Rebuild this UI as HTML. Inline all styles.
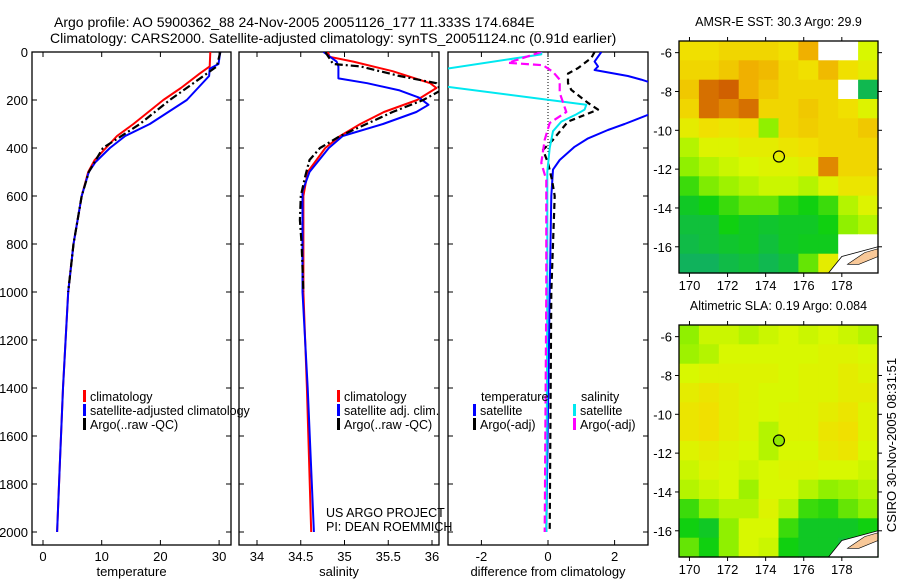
<!DOCTYPE html>
<html><head><meta charset="utf-8"><style>
html,body{margin:0;padding:0;background:#fff;width:900px;height:580px;overflow:hidden}
svg{display:block;font-family:"Liberation Sans",sans-serif}
</style></head><body>
<svg id="fig" width="900" height="580" viewBox="0 0 900 580"></svg>
<script>
// ---------- data ----------
const depthTicks=[0,200,400,600,800,1000,1200,1400,1600,1800,2000];
const tempTicks=[0,10,20,30];
const salTicks=[34,34.5,35,35.5,36];
const salTickLabels=["34","34.5","35","35.5","36"];
const diffTicks=[-2,0,2];
// temperature profiles [depth, value]
const tempClim=[[0,28.5],[60,28.4],[90,26.7],[150,23.5],[200,20.5],[300,15.4],[350,12.6],[450,8.8],[500,7.7],[600,6.6],[800,5.2],[1000,4.3],[1400,3.4],[1700,2.9],[2000,2.4]];
const tempSat=[[0,30.2],[50,29.9],[70,28.4],[100,28.3],[200,24.5],[300,18.2],[350,14.0],[400,11.4],[460,8.9],[500,7.8],[600,6.6],[800,5.2],[1000,4.3],[1400,3.4],[1700,2.9],[2000,2.4]];
const tempArgo=[[0,30.2],[60,29.6],[90,27.9],[200,21.6],[300,16.5],[400,10.2],[450,9.0],[500,7.8],[600,6.6],[800,5.2],[1000,4.3]];
// salinity profiles
const salClim=[[0,34.81],[20,34.83],[40,35.1],[80,35.55],[130,35.98],[150,36.05],[200,35.83],[250,35.45],[300,35.18],[350,34.95],[400,34.78],[500,34.58],[600,34.53],[800,34.53],[1000,34.53],[1400,34.57],[2000,34.62]];
const salSat=[[0,34.76],[40,34.91],[60,34.93],[110,34.93],[130,35.26],[160,35.63],[190,35.85],[220,35.96],[250,35.82],[300,35.44],[350,34.98],[400,34.82],[500,34.6],[580,34.52],[800,34.52],[1000,34.52],[1400,34.58],[2000,34.65]];
const salArgo=[[0,34.78],[50,34.87],[60,35.18],[100,35.63],[130,36.05],[160,36.1],[200,35.9],[250,35.55],[300,35.25],[350,34.95],[400,34.72],[450,34.6],[520,34.55],[600,34.5],[700,34.49],[800,34.51],[1000,34.53]];
// differences from climatology
const diffTempSat=[[0,1.6],[40,1.4],[60,1.5],[75,1.4],[100,2.4],[115,2.8],[150,3.6],[200,4.0],[250,3.2],[262,3.0],[300,2.3],[325,1.8],[360,1.2],[395,0.8],[450,0.35],[490,0.15],[600,0.1],[1000,0.05],[1500,0.0],[2000,-0.05]];
const diffTempArgo=[[0,1.4],[25,1.3],[67,0.9],[90,0.6],[130,0.6],[158,0.7],[212,1.2],[240,1.5],[290,0.6],[366,0.15],[408,-0.15],[462,0],[533,0.12],[600,0.2],[1000,0.1],[2000,0.05]];
const diffSalSat=[[0,-0.2],[10,-0.2],[75,-3.3],[140,-3.3],[220,1.15],[240,1.1],[260,0.85],[290,0.4],[330,0.15],[400,0.05],[500,-0.02],[1000,-0.02],[2000,-0.05]];
const diffSalArgo=[[0,-0.2],[45,-1.2],[55,-0.15],[83,0.15],[115,0.35],[170,0.35],[250,0.55],[296,0.05],[366,-0.1],[462,-0.2],[533,-0.05],[1000,-0.05],[2000,-0.1]];
// map grids (normalised colour index, -1 = no data)
const mapLonTicks=[170,172,174,176,178];
const mapLatTicks=[-6,-8,-10,-12,-14,-16];
const sstGrid=[
[0.7,0.7,0.72,0.72,0.72,0.7,0.8,-1,-1,0.6],
[0.72,0.72,0.75,0.8,0.78,0.72,0.7,0.78,0.7,0.65],
[0.75,0.88,0.9,0.8,0.75,0.72,0.72,0.72,-1,0.2],
[0.72,0.88,0.85,0.88,0.72,0.72,0.75,0.72,0.7,0.62],
[0.65,0.7,0.68,0.7,0.5,0.72,0.74,0.72,0.72,0.75],
[0.55,0.62,0.62,0.65,0.65,0.68,0.7,0.72,0.72,0.72],
[0.5,0.55,0.58,0.6,0.62,0.62,0.65,0.85,0.72,0.72],
[0.4,0.48,0.52,0.55,0.58,0.58,0.55,0.62,0.68,0.68],
[0.3,0.35,0.4,0.45,0.45,0.38,0.35,0.4,0.55,0.62],
[0.25,0.25,0.35,0.3,0.28,0.3,0.3,0.35,0.5,0.55],
[0.22,0.25,0.28,0.3,0.25,0.3,0.32,0.32,-1,-1],
[0.15,0.15,0.22,0.25,0.2,0.25,0.45,0.65,-1,-1]];
const slaGrid=[
[0.5,0.58,0.58,0.55,0.58,0.6,0.58,0.6,0.58,0.55],
[0.52,0.55,0.6,0.6,0.6,0.6,0.6,0.62,0.62,0.6],
[0.6,0.62,0.62,0.62,0.62,0.6,0.62,0.62,0.65,0.62],
[0.65,0.68,0.65,0.62,0.6,0.6,0.62,0.62,0.65,0.65],
[0.68,0.7,0.65,0.62,0.6,0.62,0.62,0.65,0.68,0.62],
[0.68,0.7,0.65,0.62,0.55,0.62,0.62,0.68,0.7,0.62],
[0.62,0.65,0.62,0.6,0.55,0.6,0.6,0.66,0.68,0.6],
[0.58,0.62,0.6,0.58,0.6,0.62,0.62,0.6,0.6,0.58],
[0.55,0.58,0.6,0.52,0.6,0.6,0.55,0.5,0.52,0.55],
[0.4,0.5,0.55,0.55,0.62,0.55,0.4,0.38,0.45,0.5],
[0.35,0.3,0.5,0.6,0.6,0.4,0.3,0.3,0.3,0.35],
[0.45,0.35,0.5,0.6,0.58,0.35,0.3,0.3,0.25,0.3]];
const argoLon=174.7, argoLat=-11.35;

// ---------- helpers ----------
const NS="http://www.w3.org/2000/svg";
const svg=document.getElementById('fig');
function mk(tag,attrs,parent){const e=document.createElementNS(NS,tag);for(const k in attrs)e.setAttribute(k,attrs[k]);(parent||svg).appendChild(e);return e;}
function txt(s,x,y,size,anchor,parent){const t=mk('text',{x:x,y:y,'font-size':size,'text-anchor':anchor||'start',fill:'#000'},parent);t.textContent=s;return t;}

const yTop=52, yBot=545, pxPerM=0.24;
const yD=d=>yTop+d*pxPerM;
const panels=[
 {name:'temperature',x0:32,x1:231,fx:v=>43+5.87*v,ticks:tempTicks,labels:tempTicks.map(String),title:'temperature'},
 {name:'salinity',x0:239,x1:439,fx:v=>257+87.5*(v-34),ticks:salTicks,labels:salTickLabels,title:'salinity'},
 {name:'difference',x0:448,x1:648,fx:v=>548+33.3*v,ticks:diffTicks,labels:diffTicks.map(String),title:'difference from climatology'}
];

// titles
let t1=txt('Argo profile: AO 5900362_88 24-Nov-2005 20051126_177 11.333S 174.684E',54,27,14);

let t2=txt('Climatology: CARS2000. Satellite-adjusted climatology: synTS_20051124.nc (0.91d earlier)',50,43,14);


panels.forEach((p,i)=>{
  const g=mk('g',{});
  
  
  const cp=mk('clipPath',{id:'clip'+i},g);
  mk('rect',{x:p.x0,y:yTop,width:p.x1-p.x0,height:yBot-yTop},cp);
  mk('rect',{x:p.x0,y:yTop,width:p.x1-p.x0,height:yBot-yTop,fill:'none',stroke:'#000','stroke-width':1.3},g);
  p.ticks.forEach((v,j)=>{
    const x=p.fx(v);
    mk('line',{x1:x,y1:yTop,x2:x,y2:yTop+5,stroke:'#000'},g);
    mk('line',{x1:x,y1:yBot,x2:x,y2:yBot-5,stroke:'#000'},g);
    const l=txt(p.labels[j],x,561,13,'middle',g);
    
    
  });
  depthTicks.forEach(d=>{
    const y=yD(d);
    mk('line',{x1:p.x0,y1:y,x2:p.x0+5,y2:y,stroke:'#000'},g);
    mk('line',{x1:p.x1,y1:y,x2:p.x1-5,y2:y,stroke:'#000'},g);
    if(i===0){const l=txt(String(d),28,y+5,13,'end',g);
      
      }
  });
  const at=txt(p.title,(p.x0+p.x1)/2,576,13,'middle',g);
  
  
  p.g=mk('g',{'clip-path':'url(#clip'+i+')'},g);
});

function line(p,data,color,w,dash,name){
  const pts=data.map(d=>p.fx(d[1]).toFixed(1)+','+yD(d[0]).toFixed(1)).join(' ');
  const a={points:pts,fill:'none',stroke:color,'stroke-width':w,'stroke-linejoin':'round'};
  if(dash)a['stroke-dasharray']=dash;
  const e=mk('polyline',a,p.g);
  
  
}
line(panels[0],tempClim,'#ff0000',2,null,'temp-climatology-line');
line(panels[0],tempSat,'#0000ff',2,null,'temp-satellite-line');
line(panels[0],tempArgo,'#000',2.2,'8,3,2,3','temp-argo-line');
line(panels[1],salClim,'#ff0000',2,null,'sal-climatology-line');
line(panels[1],salSat,'#0000ff',2,null,'sal-satellite-line');
line(panels[1],salArgo,'#000',2.2,'8,3,2,3','sal-argo-line');
// zero line
const zl=mk('line',{x1:panels[2].fx(0),y1:yTop,x2:panels[2].fx(0),y2:yD(420),stroke:'#000','stroke-dasharray':'1,2'},panels[2].g);

line(panels[2],diffTempSat,'#0000ff',2,null,'diff-temp-satellite-line');
line(panels[2],diffTempArgo,'#000',2.2,'6,4','diff-temp-argo-line');
line(panels[2],diffSalSat,'#00e8f0',2,null,'diff-sal-satellite-line');
line(panels[2],diffSalArgo,'#ff00ff',2.2,'8,4','diff-sal-argo-line');

// legends
function legend(x,y,color,label,name){
  const g=mk('g',{});
  
  
  mk('rect',{x:x,y:y-11,width:3,height:12,fill:color},g);
  txt(label,x+7,y,12.5,'start',g);
}
legend(83,401,'#ff0000','climatology','legend-entry-climatology');
legend(83,415,'#0000ff','satellite-adjusted climatology','legend-entry-satellite-adjusted');
legend(83,429,'#000','Argo(..raw -QC)','legend-entry-argo');
legend(337,401,'#ff0000','climatology','legend-entry-sal-climatology');
legend(337,415,'#0000ff','satellite adj. clim.','legend-entry-sal-satellite');
legend(337,429,'#000','Argo(..raw -QC)','legend-entry-sal-argo');
let lt=txt('temperature',481,401,12.5);
let ls=txt('salinity',581,401,12.5);
legend(473,415,'#0000ff','satellite','legend-entry-diff-temp-satellite');
legend(473,429,'#000','Argo(-adj)','legend-entry-diff-temp-argo');
legend(573,415,'#00e8f0','satellite','legend-entry-diff-sal-satellite');
legend(573,429,'#ff00ff','Argo(-adj)','legend-entry-diff-sal-argo');
let c1=txt('US ARGO PROJECT',326,517,12.5);
let c2=txt('PI: DEAN ROEMMICH',326,531,12.5);

// ---------- maps ----------
const stops=[[0,[16,160,128]],[0.2,[16,184,80]],[0.35,[16,208,16]],[0.5,[144,240,0]],[0.6,[216,248,0]],[0.7,[240,224,0]],[0.8,[240,176,0]],[0.9,[208,96,0]],[1,[190,60,0]]];
function cmap(v){
  for(let i=1;i<stops.length;i++){if(v<=stops[i][0]){const a=stops[i-1],b=stops[i],f=(v-a[0])/(b[0]-a[0]);
    return 'rgb('+a[1].map((c,k)=>Math.round(c+(b[1][k]-c)*f)).join(',')+')';}}
  return 'rgb(190,60,0)';
}
const lon0=169.45,lon1=179.9,lat0=-5.4,lat1=-17.35;
function drawMap(top,grid,title,name,filledMarker){
  const x0=679,x1=878,y0=top,y1=top+232;
  const fxm=lon=>x0+(lon-lon0)/(lon1-lon0)*(x1-x0);
  const fym=lat=>y0+(lat-lat0)/(lat1-lat0)*(y1-y0);
  const g=mk('g',{});
  
  
  const rows=grid.length,cols=grid[0].length;
  const cw=(x1-x0)/cols,ch=(y1-y0)/rows;
  grid.forEach((row,r)=>row.forEach((v,c)=>{
    const cell=mk('rect',{x:(x0+c*cw).toFixed(1),y:(y0+r*ch).toFixed(1),width:(cw+0.6).toFixed(1),height:(ch+0.6).toFixed(1),fill:v<0?'#fff':cmap(v)},g);
    
    
  }));
  // land (New Caledonia/Vanuatu corner)
  mk('path',{d:`M${fxm(177.3)},${y1} L${fxm(178)},${fym(-16.5)} L${fxm(179.9)},${fym(-16.0)} L${x1},${y1} Z`,fill:'#fff',stroke:'#000','stroke-width':0.8},g);
  const land=mk('path',{d:`M${fxm(178.3)},${fym(-16.9)} L${fxm(179.2)},${fym(-16.3)} L${fxm(179.9)},${fym(-16.1)} L${fxm(179.9)},${fym(-16.5)} L${fxm(178.9)},${fym(-16.9)} Z`,fill:'#f8c898',stroke:'#000','stroke-width':0.6},g);
  
  
  mk('rect',{x:x0,y:y0,width:x1-x0,height:y1-y0,fill:'none',stroke:'#000','stroke-width':1.3},g);
  mapLonTicks.forEach(l=>{const x=fxm(l);
    mk('line',{x1:x,y1:y0-4,x2:x,y2:y0,stroke:'#000'},g);
    mk('line',{x1:x,y1:y1,x2:x,y2:y1+4,stroke:'#000'},g);
    txt(String(l),x,y1+17,13,'middle',g);});
  mapLatTicks.forEach(l=>{const y=fym(l);
    mk('line',{x1:x0-4,y1:y,x2:x0,y2:y,stroke:'#000'},g);
    mk('line',{x1:x1,y1:y,x2:x1+4,y2:y,stroke:'#000'},g);
    txt(String(l),x0-7,y+5,13,'end',g);});
  const m=mk('circle',{cx:fxm(argoLon),cy:fym(argoLat),r:5.5,fill:filledMarker?'#90e800':'none',stroke:'#000','stroke-width':1.2},g);
  
  
  const tt=txt(title,(x0+x1)/2,top-15,12.5,'middle',g);
  
  
}
drawMap(41,sstGrid,'AMSR-E SST: 30.3 Argo: 29.9','sst-map',false);
drawMap(325,slaGrid,'Altimetric SLA: 0.19 Argo: 0.084','sla-map',true);
const cs=txt('CSIRO 30-Nov-2005 08:31:51',0,0,13,'middle');
cs.setAttribute('transform','translate(896,445) rotate(-90)');


</script>
</body></html>
